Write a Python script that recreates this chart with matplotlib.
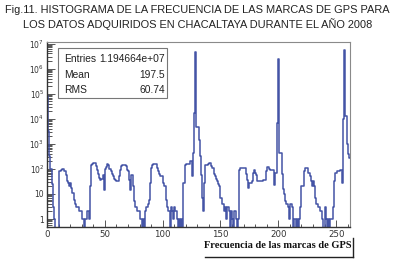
import numpy as np
import matplotlib
matplotlib.use("Agg")
import matplotlib.pyplot as plt
from matplotlib.ticker import FixedLocator, NullFormatter, LogLocator

# ---- data: log10 of bin counts (None = empty bin) ----
log_counts = [
    4.9, 3.5, 2.5, 2.0, 1.4, 0.5, 0.0, None, None, None,          # 0-9
    1.9, 1.9, 1.95, 2.0, 2.0, 1.9, 1.75, 1.5, 1.43, 1.3,          # 10-19
    1.43, 1.23, 1.03, 0.8, 0.56, 0.5, 0.43, 0.43, 0.3, 0.3,       # 20-29
    0.0, 0.0, None, 0.0, 0.0, 0.3, 0.0, 1.3, 2.16, 2.2,           # 30-39
    2.23, 2.23, 2.1, 1.96, 1.8, 1.63, 1.56, 1.6, 1.76, 1.16,      # 40-49
    2.0, 2.09, 2.2, 2.15, 2.0, 1.9, 1.8, 1.7, 1.6, 1.56,          # 50-59
    1.5, 1.5, 1.7, 1.96, 2.1, 2.16, 2.16, 2.16, 2.1, 1.96,        # 60-69
    1.9, 1.56, 1.16, 1.76, 1.3, 0.69, 0.5, 0.5, 0.3, 0.3,         # 70-79
    0.0, 0.0, None, 0.0, None, 0.3, 0.5, 0.63, 0.8, 1.43,         # 80-89
    2.03, 2.15, 2.2, 2.2, 2.2, 2.05, 1.9, 1.8, 1.7, 1.7,          # 90-99
    1.43, 1.3, 1.3, 0.8, 0.5, 0.3, None, 0.5, 0.3, 0.0,           # 100-109
    0.48, 0.3, 0.0, None, 0.0, None, 0.0, None, 1.43, 2.16,       # 110-119
    2.2, 2.2, 2.2, 2.2, 2.3, 1.7, 2.63, 4.23, 6.65, 3.69,         # 120-129
    3.69, 3.16, 2.5, 1.76, 0.85, 0.36, 1.43, 2.16, 2.16, 2.2,     # 130-139
    2.23, 2.23, 2.1, 2.03, 1.8, 1.7, 1.6, 1.5, 1.4, 1.3,          # 140-149
    0.83, 0.63, 0.63, 0.3, 0.5, 0.0, 0.5, 0.3, None, 0.3,         # 150-159
    0.0, None, 0.3, 0.0, None, 0.0, 1.96, 2.03, 2.03, 2.03,       # 160-169
    2.03, 2.03, 1.8, 1.56, 1.23, 1.43, 1.43, 1.5, 1.83, 1.96,     # 170-179
    1.83, 1.76, 1.5, 1.5, 1.5, 1.5, 1.5, 1.56, 1.56, 1.9,         # 180-189
    2.09, 2.09, 2.0, 1.96, 1.96, 1.96, 1.36, 1.83, 1.83, 3.84,    # 190-199
    6.39, 2.63, 2.63, 1.8, 1.2, 1.0, 0.69, 0.6, 0.5, 0.0,         # 200-209
    0.6, 0.6, 0.5, None, 0.0, None, 0.0, None, 0.0, 0.5,          # 210-219
    1.3, 1.3, 1.9, 2.03, 2.03, 2.03, 1.83, 1.7, 1.5, 1.3,         # 220-229
    1.5, 1.3, 0.83, 0.63, 0.5, 0.5, 0.2, 0.2, 0.0, None,          # 230-239
    0.49, 0.0, None, 0.0, None, 0.0, 0.0, 0.5, 1.5, 1.83,         # 240-249
    1.83, 1.9, 1.9, 1.96, 1.96, 1.43, 4.0, 6.76, 4.1, 3.0,        # 250-259
    2.6, 2.42,                                                    # 260-261
]
counts = np.array([0 if v is None else round(10 ** v) for v in log_counts], dtype=float)
edges = np.arange(len(counts) + 1)

title_lines = ["Fig.11. HISTOGRAMA DE LA FRECUENCIA DE LAS MARCAS DE GPS PARA",
               "LOS DATOS ADQUIRIDOS EN CHACALTAYA DURANTE EL AÑO 2008"]
stats_labels = ["Entries", "Mean", "RMS"]
stats_values = ["1.194664e+07", "197.5", "60.74"]
xlabel = "Frecuencia de las marcas de GPS"
xticks = [0, 50, 100, 150, 200, 250]
yticks = [1, 10, 1e2, 1e3, 1e4, 1e5, 1e6, 1e7]
ytick_labels = ["1", "10", r"$10^{2}$", r"$10^{3}$", r"$10^{4}$", r"$10^{5}$", r"$10^{6}$", r"$10^{7}$"]

W, H = 395, 263
fig = plt.figure(figsize=(W / 100, H / 100), dpi=100)
ax = fig.add_axes([47 / W, 1 - 227 / H, (350 - 47) / W, (227 - 42) / H])

draw = np.where(counts > 0, counts, 0.05)
ax.step(edges, np.append(draw, draw[-1]), where="post", color="#4454a6", lw=1.1)

ax.set_yscale("log")
ax.set_ylim(0.48, 1.15e7)
ax.set_xlim(0, 262)

ax.yaxis.set_major_locator(FixedLocator(yticks))
ax.set_yticklabels(ytick_labels)
ax.yaxis.set_minor_locator(LogLocator(base=10, subs=np.arange(2, 10)))
ax.yaxis.set_minor_formatter(NullFormatter())
ax.set_xticks(xticks)
ax.set_xticks(np.arange(0, 262, 10), minor=True)

ax.tick_params(axis="both", which="both", direction="in", colors="#555555",
               labelcolor="#333333", width=0.7, pad=2)
ax.tick_params(axis="y", which="major", length=6, labelsize=5.5)
ax.tick_params(axis="y", which="minor", length=3.5)
ax.tick_params(axis="x", which="major", length=5, labelsize=6.2)
ax.tick_params(axis="x", which="minor", length=2.5)

for side in ["left", "bottom"]:
    ax.spines[side].set_color("#333333")
    ax.spines[side].set_linewidth(1.0)
for side in ["top", "right"]:
    ax.spines[side].set_color("#8a8a8a")
    ax.spines[side].set_linewidth(0.8)

# title
fam = ["Liberation Sans Narrow", "Liberation Sans", "DejaVu Sans"]
fig.text(0.5, 1 - 10 / H, title_lines[0], ha="center", va="center",
         fontsize=7.95, family=fam, color="#222222")
fig.text(0.5, 1 - 24 / H, title_lines[1], ha="center", va="center",
         fontsize=7.95, family=fam, color="#222222")

# stats box
bx0, bx1, by0, by1 = 58, 167, 48, 98
fig.patches.append(plt.Rectangle((bx0 / W, 1 - by1 / H), (bx1 - bx0) / W, (by1 - by0) / H,
                                 transform=fig.transFigure, fill=True, facecolor="white",
                                 edgecolor="#777777", lw=0.8, zorder=5))
rows_y = [59, 75, 90]
for lab, val, yy in zip(stats_labels, stats_values, rows_y):
    fig.text(64 / W, 1 - yy / H, lab, ha="left", va="center", fontsize=7.4,
             family=["Liberation Sans", "DejaVu Sans"], color="#222222", zorder=6)
    fig.text(165 / W, 1 - yy / H, val, ha="right", va="center", fontsize=7.4,
             family=["Liberation Sans", "DejaVu Sans"], color="#222222", zorder=6)

# x label box
fig.text(278 / W, 1 - 246 / H, xlabel, ha="center", va="center", fontsize=7.5,
         family=["Liberation Serif", "DejaVu Serif"], weight="bold", color="#111111")
fig.add_artist(plt.Line2D([353 / W, 353 / W], [1 - 238 / H, 1 - 257 / H],
                          transform=fig.transFigure, color="#222222", lw=1.0))
fig.add_artist(plt.Line2D([205 / W, 353 / W], [1 - 257 / H, 1 - 257 / H],
                          transform=fig.transFigure, color="#222222", lw=1.0))

fig.savefig("out.png", dpi=100)
